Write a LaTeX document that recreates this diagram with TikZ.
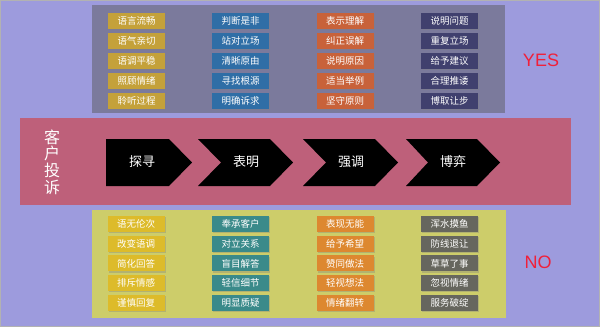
\documentclass[tikz,border=0pt]{standalone}
\usepackage{fontspec}
\setmainfont{Liberation Sans}
\newfontfamily\cjk{Noto Sans CJK SC}
\usetikzlibrary{shadows}
\definecolor{bgc}{HTML}{9D9BDD}
\definecolor{toppanel}{HTML}{7B7A9C}
\definecolor{botpanel}{HTML}{CDCD6A}
\definecolor{band}{HTML}{BE607A}
\definecolor{tA}{HTML}{C4A13A}
\definecolor{tB}{HTML}{2F6EA6}
\definecolor{tC}{HTML}{C8623A}
\definecolor{tD}{HTML}{40406E}
\definecolor{bA}{HTML}{DDBB2A}
\definecolor{bB}{HTML}{3A8A8A}
\definecolor{bC}{HTML}{DD8830}
\definecolor{bD}{HTML}{66665E}
\definecolor{yesred}{HTML}{F0203A}
\tikzset{
  btn/.style={fill=#1, minimum width=57pt, minimum height=16pt, inner sep=0pt,
    text=white, font=\cjk\fontsize{9.5}{10}\selectfont,
    drop shadow={shadow xshift=1.2pt, shadow yshift=-1.2pt, opacity=0.35}},
  chev/.style={fill=black},
  chevtext/.style={text=white, font=\cjk\fontsize{13}{14}\selectfont, inner sep=0pt},
  verdict/.style={text=yesred, font=\fontsize{18}{20}\selectfont, inner sep=0pt},
  panel/.style={fill=#1, draw=none}
}
\begin{document}
\begin{tikzpicture}[x=1pt,y=-1pt]
\useasboundingbox (0,0) rectangle (600,327);
\fill[bgc] (0,0) rectangle (600,327);
\draw[gray!60, line width=0.8pt] (0.4,0.4) rectangle (599.6,326.6);
% panels
\fill[toppanel] (92,5) rectangle (505,113);
\fill[band] (20,118) rectangle (571,205);
\fill[botpanel] (92,210) rectangle (506,318);
% top buttons
\foreach \t [count=\i] in {语言流畅,语气亲切,语调平稳,照顾情绪,聆听过程}
  \node[btn=tA] (ta\i) at (136.5,{21+20*(\i-1)}) {\t};
\foreach \t [count=\i] in {判断是非,站对立场,清晰原由,寻找根源,明确诉求}
  \node[btn=tB] (tb\i) at (240.5,{21+20*(\i-1)}) {\t};
\foreach \t [count=\i] in {表示理解,纠正误解,说明原因,适当举例,坚守原则}
  \node[btn=tC] (tc\i) at (345,{21+20*(\i-1)}) {\t};
\foreach \t [count=\i] in {说明问题,重复立场,给予建议,合理推诿,博取让步}
  \node[btn=tD] (td\i) at (449.5,{21+20*(\i-1)}) {\t};
% bottom buttons
\foreach \t [count=\i] in {语无伦次,改变语调,简化回答,排斥情感,谨慎回复}
  \node[btn=bA] (ba\i) at (136,{224+19.7*(\i-1)}) {\t};
\foreach \t [count=\i] in {奉承客户,对立关系,盲目解答,轻信细节,明显质疑}
  \node[btn=bB] (bb\i) at (240.5,{224+19.7*(\i-1)}) {\t};
\foreach \t [count=\i] in {表现无能,给予希望,赞同做法,轻视想法,情绪翻转}
  \node[btn=bC] (bc\i) at (345,{224+19.7*(\i-1)}) {\t};
\foreach \t [count=\i] in {浑水摸鱼,防线退让,草草了事,忽视情绪,服务破绽}
  \node[btn=bD] (bd\i) at (449.5,{224+19.7*(\i-1)}) {\t};
% verdicts
\node[verdict] (yes) at (541,60) {YES};
\node[verdict] (no) at (538,262) {NO};
% title
\node[text=white, font=\cjk\fontsize{16}{16.7}\selectfont, align=center, inner sep=0pt] (title) at (52,162) {客\\户\\投\\诉};
% chevrons
\fill[chev] (106,139) -- (169,139) -- (192,162.5) -- (169,186) -- (106,186) -- cycle;
\fill[chev] (198,139) -- (270,139) -- (293,162.5) -- (270,186) -- (198,186) -- (221,162.5) -- cycle;
\fill[chev] (303,139) -- (375,139) -- (398,162.5) -- (375,186) -- (303,186) -- (326,162.5) -- cycle;
\fill[chev] (406,139) -- (477,139) -- (500,162.5) -- (477,186) -- (406,186) -- (428,162.5) -- cycle;
\node[chevtext] (c1) at (142,162) {探寻};
\node[chevtext] (c2) at (246,162) {表明};
\node[chevtext] (c3) at (351,162) {强调};
\node[chevtext] (c4) at (453,162) {博弈};
\end{tikzpicture}
\end{document}
